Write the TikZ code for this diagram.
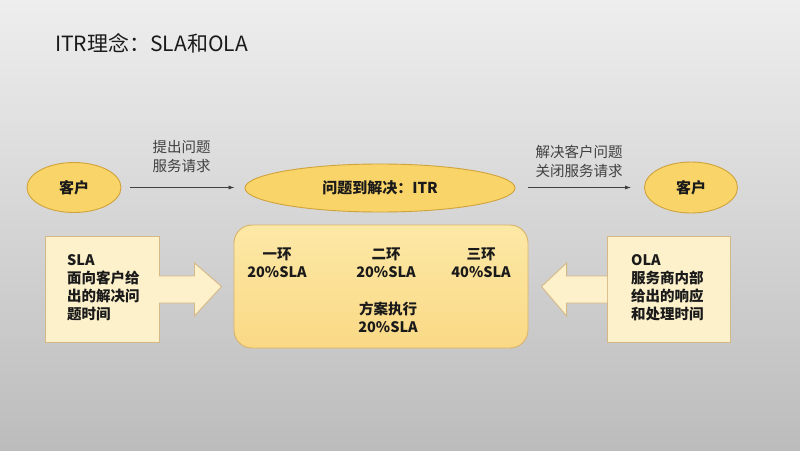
\documentclass[tikz,border=0pt]{standalone}
\usepackage{fontspec}
\setmainfont{Noto Sans CJK SC}
\usetikzlibrary{shapes.geometric,calc,arrows.meta}
\definecolor{bgtop}{HTML}{EEEEEE}
\definecolor{bgmid}{HTML}{E0E0E0}
\definecolor{bgbot}{HTML}{BCBCBC}
\definecolor{ellfill}{HTML}{F9D468}
\definecolor{elldraw}{HTML}{CFA33C}
\definecolor{boxfill}{HTML}{FDF1CC}
\definecolor{boxdraw}{HTML}{D6B886}
\definecolor{midtop}{HTML}{FCE8A6}
\definecolor{midbot}{HTML}{FAD985}
\definecolor{middraw}{HTML}{D9B36A}
\definecolor{txt}{HTML}{1A1A1A}
\definecolor{lbl}{HTML}{404040}
\tikzset{
  oval/.style={ellipse, fill=ellfill, draw=elldraw, line width=0.9pt, inner sep=0pt,
    font=\fontsize{15}{18}\selectfont\bfseries, text=txt},
  infobox/.style={rectangle, fill=boxfill, draw=boxdraw, line width=0.9pt, inner sep=0pt},
  blockarrow/.style={fill=boxfill, draw=boxdraw, line width=0.9pt, line join=miter},
  flow/.style={draw=lbl, line width=0.7pt, -{Latex[length=6pt,width=4pt]}},
  flowlabel/.style={font=\fontsize{14.5}{19}\selectfont, text=lbl, align=left, inner sep=0pt},
  boxtext/.style={font=\fontsize{14.5}{18}\selectfont\bfseries, text=txt, align=left, inner sep=0pt},
  midtext/.style={font=\fontsize{14.5}{18.5}\selectfont\bfseries, text=txt, align=center, inner sep=0pt}
}
\begin{document}
\begin{tikzpicture}[x=1pt,y=-1pt]
\useasboundingbox (0,0) rectangle (800,450);
\shade[top color=bgtop, middle color=bgmid, bottom color=bgbot] (0,0) rectangle (800,450);

\node[anchor=west, inner sep=0pt, font=\fontsize{21}{25}\selectfont, text=txt] (title) at (55,43) {ITR理念：SLA和OLA};

% main nodes
\node[oval, minimum width=94pt, minimum height=50pt] (c1) at (74,187.5) {客户};
\node[oval, minimum width=270pt, minimum height=48pt] (itr) at (380,188) {问题到解决：ITR};
\node[oval, minimum width=93pt, minimum height=51pt] (c2) at (691,187.5) {客户};

\node[rectangle, rounded corners=18pt, top color=midtop, bottom color=midbot, draw=middraw,
  line width=0.9pt, minimum width=294pt, minimum height=123pt, inner sep=0pt] (mid) at (381,286.5) {};

\node[infobox, minimum width=114pt, minimum height=106pt] (sla) at (102,289) {};
\node[infobox, minimum width=123pt, minimum height=106pt] (ola) at (668.5,289) {};

% block arrows
\draw[blockarrow] ($(sla.east)+(-0.5,-13)$) -- ($(sla.east)+(35,-13)$) -- ($(sla.east)+(35,-26)$)
  -- ($(mid.west)+(-12,0)$) -- ($(sla.east)+(35,27)$) -- ($(sla.east)+(35,14)$)
  -- ($(sla.east)+(-0.5,14)$);
\draw[blockarrow] ($(ola.west)+(0.5,-13)$) -- ($(ola.west)+(-40,-13)$) -- ($(ola.west)+(-40,-26)$)
  -- ($(mid.east)+(13,0)$) -- ($(ola.west)+(-40,27)$) -- ($(ola.west)+(-40,14)$)
  -- ($(ola.west)+(0.5,14)$);

% box texts
\node[boxtext, anchor=west] (slatext) at (67,288) {SLA\\面向客户给\\出的解决问\\题时间};
\node[boxtext, anchor=west] (olatext) at (631,288) {OLA\\服务商内部\\给出的响应\\和处理时间};

% middle box texts
\node[midtext] (r1) at (277,263) {一环\\20\%SLA};
\node[midtext] (r2) at (386,263) {二环\\20\%SLA};
\node[midtext] (r3) at (481,263) {三环\\40\%SLA};
\node[midtext] (r4) at (388,317.5) {方案执行\\20\%SLA};

% flow arrows
\draw[flow, shorten <=9pt, shorten >=10pt] (c1.east) -- (itr.west |- c1.east);
\draw[flow, shorten <=13pt, shorten >=13pt] (itr.east |- c2.west) -- (c2.west);

\node[flowlabel] (l1) at (181.5,156.5) {提出问题\\服务请求};
\node[flowlabel] (l2) at (579,161.5) {解决客户问题\\关闭服务请求};
\end{tikzpicture}
\end{document}
